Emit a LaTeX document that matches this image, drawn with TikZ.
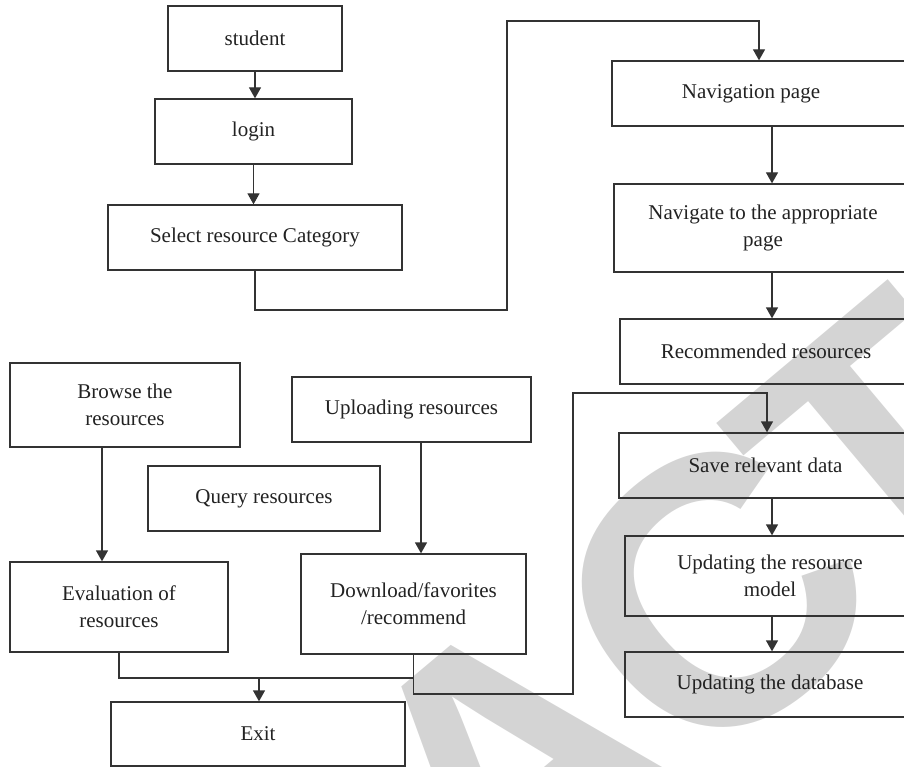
\documentclass[tikz,border=0pt]{standalone}
\usepackage{fontspec}
\setmainfont{Liberation Serif}
\newfontfamily\wmfont{Liberation Sans}[BoldFont={* Bold}]
\usetikzlibrary{arrows.meta,calc}
\definecolor{linecol}{HTML}{333333}
\definecolor{txtcol}{HTML}{222222}
\definecolor{wmgray}{HTML}{D4D4D4}
\tikzset{
  box/.style={draw=linecol, line width=1.3pt, rectangle, inner sep=0pt, align=center,
              text=txtcol, font=\fontsize{21}{27}\selectfont},
  conn/.style={draw=linecol, line width=1.3pt},
  arr/.style={conn, -{Triangle[width=12pt,length=11pt]}},
  wm/.style={text=wmgray, inner sep=0pt, outer sep=0pt, rotate=40,
             font=\wmfont\bfseries\fontsize{380}{380}\selectfont}
}
\begin{document}
\begin{tikzpicture}[x=1pt,y=-1pt]
\useasboundingbox (0,0) rectangle (904,767);
% watermark
\node[wm] (wmC) at (715,595) {C};
\node[wm, anchor=base east] (wmL) at ($(wmC.base west)+(6,-5)$) {RETRA};
\node[wm, anchor=base west] (wmR) at ($(wmC.base east)+(-23,19)$) {TED};
% boxes
\node[box, minimum width=174pt, minimum height=65pt] (student) at (255,38.5) {student};
\node[box, minimum width=197pt, minimum height=65pt] (login) at (253.5,131.5) {login};
\node[box, minimum width=294pt, minimum height=65pt] (select) at (255,237.5) {Select resource Category};
\node[box, minimum width=300pt, minimum height=65pt] (nav) at (762,93.5) {Navigation page\hspace*{22pt}};
\node[box, minimum width=298pt, minimum height=88pt] (navig) at (763,228) {Navigate to the appropriate\\page};
\node[box, minimum width=292pt, minimum height=65pt] (rec) at (766,351.5) {Recommended resources};
\node[box, minimum width=230pt, minimum height=84pt] (browse) at (125,405) {Browse the\\resources};
\node[box, minimum width=239pt, minimum height=65pt] (upload) at (411.5,409.5) {Uploading resources};
\node[box, minimum width=232pt, minimum height=65pt] (query) at (264,498.5) {Query resources};
\node[box, minimum width=218pt, minimum height=90pt] (eval) at (119,607) {Evaluation of\\resources};
\node[box, minimum width=225pt, minimum height=100pt] (dl) at (413.5,604) {Download/favorites\\/recommend};
\node[box, minimum width=294pt, minimum height=64pt] (exit) at (258,734) {Exit};
\node[box, minimum width=293pt, minimum height=65pt] (save) at (765.5,465.5) {Save relevant data};
\node[box, minimum width=290pt, minimum height=80pt] (upd) at (770,576) {Updating the resource\\model};
\node[box, minimum width=290pt, minimum height=65pt] (db) at (770,684.5) {Updating the database};
% connectors
\draw[arr] (student.south) -- (student.south |- login.north);
\draw[arr] (login.south) -- (login.south |- select.north);
\draw[arr] (select.south) -- (255,310) -- (507,310) -- (507,21) -- (759,21) -- (nav.north -| 759,0);
\draw[arr] (nav.south -| 772,0) -- (navig.north -| 772,0);
\draw[arr] (navig.south -| 772,0) -- (rec.north -| 772,0);
\draw[arr] (browse.south -| 102,0) -- (eval.north -| 102,0);
\draw[arr] (upload.south -| 421,0) -- (dl.north -| 421,0);
\coordinate (m) at (259,678);
\draw[conn] (eval.south) |- (m);
\draw[conn] (dl.south) |- (m);
\draw[arr] (m) -- (exit.north -| m);
\draw[arr] (dl.south) -- (413.5,694) -- (573,694) -- (573,393) -- (767,393) -- (save.north -| 767,0);
\draw[arr] (save.south -| 772,0) -- (upd.north -| 772,0);
\draw[arr] (upd.south -| 772,0) -- (db.north -| 772,0);
\end{tikzpicture}
\end{document}
